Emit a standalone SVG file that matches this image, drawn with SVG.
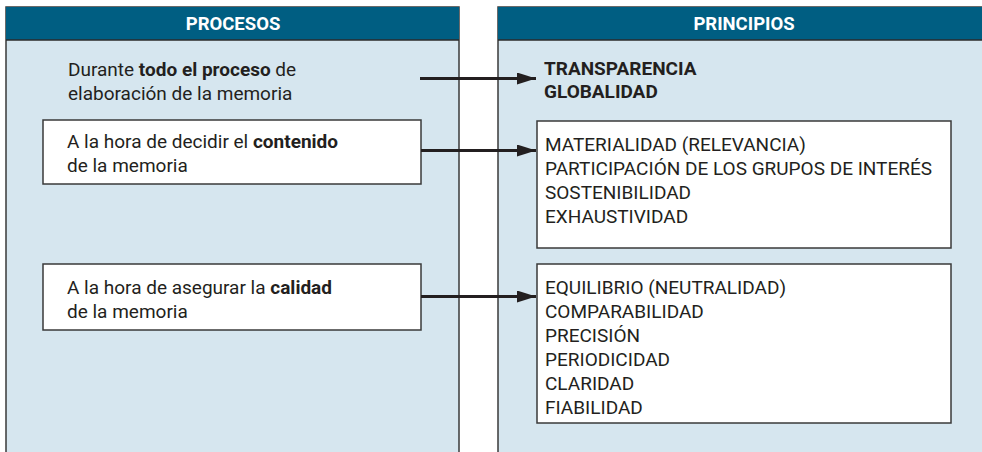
<svg xmlns="http://www.w3.org/2000/svg" width="982" height="452" viewBox="0 0 982 452">
<defs>
<style>
.panel{fill:#d6e6ef;stroke:#3a3a3a;stroke-width:1.5}
.head{fill:#005e82}
.hline{stroke:#2b2b2b;stroke-width:1.5}
.htxt{font-family:Roboto,"Liberation Sans",sans-serif;font-weight:bold;font-size:18.5px;fill:#ffffff;text-anchor:middle}
.box{fill:#ffffff;stroke:#3a3a3a;stroke-width:1.5}
.t{font-family:Roboto,"Liberation Sans",sans-serif;font-size:19px;fill:#231f20}
.b{font-weight:bold}
.conn{stroke:#231f20;stroke-width:3;fill:none;marker-end:url(#ah)}
</style>
<marker id="ah" markerUnits="userSpaceOnUse" markerWidth="20" markerHeight="14" refX="19" refY="6" orient="auto">
<polygon points="0,0 19,6 0,12" fill="#231f20"/>
</marker>
</defs>
<g id="procesos">
<rect class="panel" x="6" y="7" width="453" height="460"/>
<rect class="head" x="6" y="7" width="453" height="33"/>
<line class="hline" x1="6" y1="40" x2="459" y2="40"/>
<text class="htxt" x="233" y="30">PROCESOS</text>
</g>
<g id="principios">
<rect class="panel" x="498" y="7" width="500" height="460"/>
<rect class="head" x="498" y="7" width="500" height="33"/>
<line class="hline" x1="498" y1="40" x2="998" y2="40"/>
<text class="htxt" x="744" y="30">PRINCIPIOS</text>
</g>
<g id="proc-todo">
<text class="t" x="68" y="76">Durante <tspan class="b">todo el proceso</tspan> de</text>
<text class="t" x="68" y="100">elaboración de la memoria</text>
</g>
<g id="proc-contenido">
<rect class="box" x="43" y="120" width="378" height="64"/>
<text class="t" x="67" y="148">A la hora de decidir el <tspan class="b">contenido</tspan></text>
<text class="t" x="67" y="172">de la memoria</text>
</g>
<g id="proc-calidad">
<rect class="box" x="43" y="264" width="378" height="66"/>
<text class="t" x="67" y="294">A la hora de asegurar la <tspan class="b">calidad</tspan></text>
<text class="t" x="67" y="318">de la memoria</text>
</g>
<g id="prin-general">
<text class="t b" x="544" y="75">TRANSPARENCIA</text>
<text class="t b" x="544" y="98">GLOBALIDAD</text>
</g>
<g id="prin-contenido">
<rect class="box" x="537" y="121" width="414" height="127"/>
<text class="t" x="545" y="151">MATERIALIDAD (RELEVANCIA)</text>
<text class="t" x="545" y="175">PARTICIPACIÓN DE LOS GRUPOS DE INTERÉS</text>
<text class="t" x="545" y="199">SOSTENIBILIDAD</text>
<text class="t" x="545" y="223">EXHAUSTIVIDAD</text>
</g>
<g id="prin-calidad">
<rect class="box" x="537" y="264" width="414" height="159"/>
<text class="t" x="545" y="294">EQUILIBRIO (NEUTRALIDAD)</text>
<text class="t" x="545" y="318">COMPARABILIDAD</text>
<text class="t" x="545" y="342">PRECISIÓN</text>
<text class="t" x="545" y="366">PERIODICIDAD</text>
<text class="t" x="545" y="390">CLARIDAD</text>
<text class="t" x="545" y="414">FIABILIDAD</text>
</g>
<g id="connectors">
<line class="conn" x1="420" y1="78.5" x2="536" y2="78.5"/>
<line class="conn" x1="421" y1="150.5" x2="536" y2="150.5"/>
<line class="conn" x1="421" y1="296.5" x2="536" y2="296.5"/>
</g>
</svg>
